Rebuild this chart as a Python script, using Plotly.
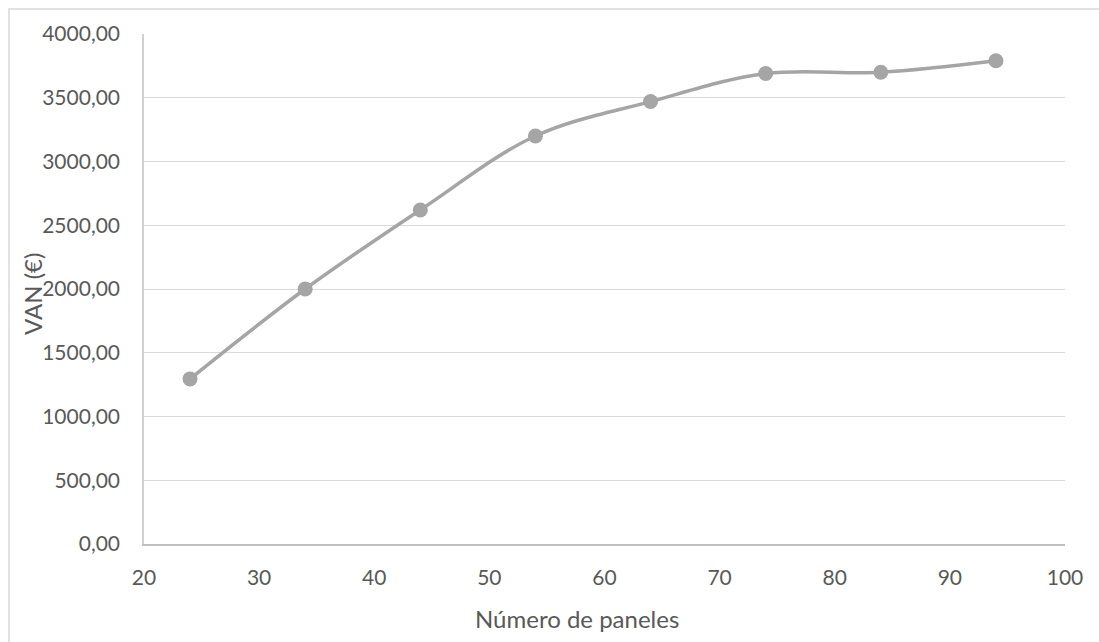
import plotly.graph_objects as go

# Net present value (VAN) against number of solar panels
paneles = [24, 34, 44, 54, 64, 74, 84, 94]
van = [1295, 2000, 2620, 3200, 3470, 3690, 3700, 3790]

x_ticks = [20, 30, 40, 50, 60, 70, 80, 90, 100]
y_ticks = [0, 500, 1000, 1500, 2000, 2500, 3000, 3500, 4000]

W, H = 1099, 642
L, R, T, B = 144, 34, 34, 98
TEXT = "#595959"
FONT = "Lato"

fig = go.Figure()
fig.add_trace(go.Scatter(
    x=paneles, y=van,
    mode="lines+markers",
    line=dict(color="#A5A5A5", width=3.5, shape="spline", smoothing=1),
    marker=dict(color="#A5A5A5", size=15),
    showlegend=False,
))

fig.update_layout(
    width=W, height=H,
    margin=dict(l=L, r=R, t=T, b=B),
    paper_bgcolor="white",
    plot_bgcolor="white",
    separators=",.",
    font=dict(family=FONT, color=TEXT, size=21),
    xaxis=dict(
        range=[20, 100], tickvals=x_ticks, ticks="",
        showgrid=False, zeroline=False,
        showline=True, linecolor="#BFBFBF", linewidth=1.5,
        ticklabelstandoff=14,
        tickfont=dict(family=FONT, color=TEXT, size=21),
    ),
    yaxis=dict(
        range=[0, 4000], tickvals=y_ticks, tickformat=".2f", ticks="",
        showgrid=True, gridcolor="#D9D9D9", gridwidth=1.3,
        zeroline=False,
        showline=True, linecolor="#D0D0D0", linewidth=1.5,
        ticklabelstandoff=18,
        tickfont=dict(family=FONT, color=TEXT, size=21),
    ),
    annotations=[
        dict(text="Número de paneles", xref="paper", yref="paper",
             x=(577 - L) / (W - L - R), y=(H - B - 618) / (H - T - B),
             xanchor="center", yanchor="middle", showarrow=False,
             font=dict(family=FONT, color=TEXT, size=24)),
        dict(text="VAN (€)", xref="paper", yref="paper",
             x=(32 - L) / (W - L - R), y=(H - B - 294) / (H - T - B),
             xanchor="center", yanchor="middle", textangle=-90, showarrow=False,
             font=dict(family=FONT, color=TEXT, size=24)),
    ],
    shapes=[
        # chart-area frame (left and top edges visible)
        dict(type="rect", xref="paper", yref="paper",
             x0=(9 - L) / (W - L - R), x1=1.2,
             y0=-0.5, y1=1 + (T - 9) / (H - T - B),
             line=dict(color="#D9D9D9", width=1.5), fillcolor="rgba(0,0,0,0)",
             layer="below"),
    ],
)

fig.write_html("out.html")
